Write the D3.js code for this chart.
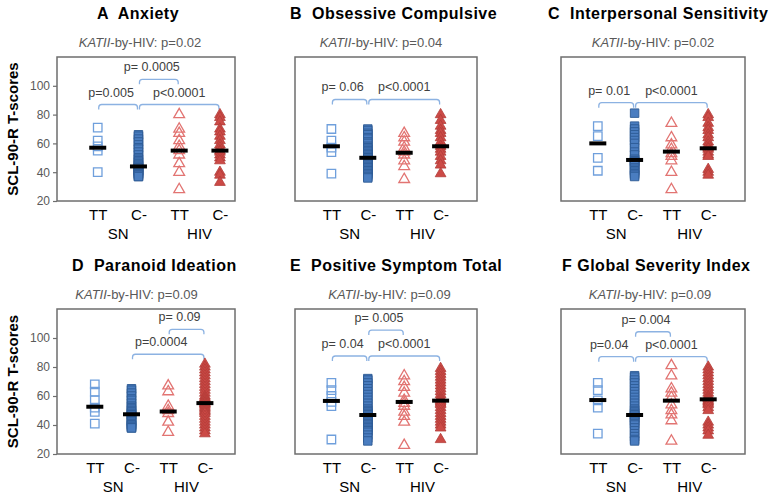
<!DOCTYPE html>
<html><head><meta charset="utf-8">
<script src="https://cdn.jsdelivr.net/npm/d3@7"></script>
<style>
html,body{margin:0;padding:0;background:#fff;}
svg{display:block;font-family:"Liberation Sans",Arial,sans-serif;}
</style></head><body>
<svg id="chart" width="773" height="498"></svg>
<script>
// ---------------- DATA ----------------
const categories = ["TT", "C-", "TT", "C-"];
const groups = ["SN", "HIV"];
const yTicks = [20, 40, 60, 80, 100];
const yLabel = "SCL-90-R T-scores";
const panelTitles = ["A  Anxiety", "B  Obsessive Compulsive", "C  Interpersonal Sensitivity",
                     "D  Paranoid Ideation", "E  Positive Symptom Total", "F Global Severity Index"];
const interactionP = ["0.02", "0.04", "0.02", "0.09", "0.09", "0.09"];

// A Anxiety
const anxSnTT  = [71, 62, 58, 55, 40];
const anxSnC   = [66, 65, 63, 61, 59, 57, 56, 54, 52, 50, 49, 48, 47, 46, 45, 44, 44, 43, 43, 42, 41, 41, 40, 40, 39, 39, 38, 38, 37, 37];
const anxHivTT = [80, 70, 67, 62, 58, 55, 52, 46, 40, 28];
const anxHivC  = [80, 78, 75, 70, 68, 65, 62, 59, 57, 55, 54, 52, 50, 48, 40, 38, 33];
const anxCenters = [57, 44, 55, 55];
const anxBrackets = [{from: 0, to: 1, level: 87, label: "p=0.005"},
                     {from: 1, to: 3, level: 87, label: "p<0.0001"},
                     {from: 1, to: 2, level: 104.5, label: "p= 0.0005"}];

// B Obsessive Compulsive
const ocSnTT  = [70, 62, 57, 54, 39];
const ocSnC   = [70, 69, 67, 66, 64, 63, 61, 60, 58, 57, 56, 55, 54, 53, 52, 51, 50, 50, 49, 48, 47, 46, 45, 44, 43, 42, 41, 40, 39, 38, 37, 36];
const ocHivTT = [67, 64, 61, 57, 54, 52, 48, 44, 35];
const ocHivC  = [80, 76, 72, 69, 67, 64, 61, 58, 56, 54, 51, 48, 45, 39];
const ocCenters = [58, 50, 53.5, 58];
const ocBrackets = [{from: 0, to: 1, level: 90.5, label: "p= 0.06"},
                    {from: 1, to: 3, level: 90.5, label: "p<0.0001"}];

// C Interpersonal Sensitivity
const isSnTT  = [72, 65, 50, 41];
const isSnC   = [81, 72, 70, 68, 66, 64, 62, 60, 57, 54, 52, 49, 48, 48, 47, 47, 46, 45, 43, 42, 41, 40, 39, 38, 37];
const isHivTT = [74, 64, 59, 56, 53, 51, 48, 40, 28];
const isHivC  = [80, 78, 74, 71, 69, 66, 64, 61, 59, 57, 56, 54, 52, 51, 42, 40, 38];
const isCenters = [60, 48.5, 54.3, 56.6];
const isBrackets = [{from: 0, to: 1, level: 88.3, label: "p= 0.01"},
                    {from: 1, to: 3, level: 88.3, label: "p<0.0001"}];

// D Paranoid Ideation
const piSnTT  = [68, 63, 57, 52, 49, 41];
const piSnC   = [65, 64, 62, 60, 58, 57, 55, 53, 52, 51, 50, 49, 48, 47, 47, 46, 45, 44, 43, 42, 41, 40, 40, 39, 39, 38, 38];
const piHivTT = [67, 63, 53, 50, 48, 42, 35];
const piHivC  = [82, 80, 78, 76, 74, 72, 70, 68, 66, 64, 62, 60, 59, 58, 57, 56, 55, 55, 54, 53, 52, 51, 50, 49, 48, 46, 44, 42, 40, 38, 36, 34];
const piCenters = [52.6, 47.4, 49.3, 55.1];
const piBrackets = [{from: 2, to: 3, level: 106, label: "p= 0.09"},
                    {from: 1, to: 3, level: 88.8, label: "p=0.0004"}];

// E Positive Symptom Total
const pstSnTT  = [69, 64, 60, 56, 53, 30];
const pstSnC   = [72, 71, 69, 67, 65, 63, 61, 59, 57, 55, 53, 51, 50, 49, 48, 47, 47, 46, 45, 44, 43, 42, 41, 40, 39, 38, 37, 36, 35, 33, 31, 29];
const pstHivTT = [74, 70, 66, 62, 57, 55, 53, 49, 46, 42, 26];
const pstHivC  = [79, 77, 75, 73, 71, 69, 67, 65, 63, 61, 59, 58, 57, 56, 55, 54, 52, 50, 48, 46, 44, 42, 40, 38, 30];
const pstCenters = [56.6, 46.9, 55.9, 56.8];
const pstBrackets = [{from: 0, to: 1, level: 87.6, label: "p= 0.04"},
                     {from: 1, to: 3, level: 87.6, label: "p<0.0001"},
                     {from: 1, to: 2, level: 105.5, label: "p= 0.005"}];

// F Global Severity Index
const gsiSnTT  = [69, 64, 57, 52, 34];
const gsiSnC   = [74, 73, 71, 69, 67, 65, 63, 61, 59, 57, 55, 53, 51, 50, 49, 48, 47, 47, 46, 45, 44, 43, 42, 41, 40, 38, 36, 34, 32, 30, 29];
const gsiHivTT = [81, 74, 65, 62, 59, 54, 50, 47, 43, 29];
const gsiHivC  = [80, 78, 76, 74, 72, 70, 68, 66, 64, 62, 60, 59, 58, 57, 56, 55, 54, 52, 50, 42, 40, 38, 36, 33];
const gsiCenters = [57.2, 46.9, 56.8, 57.7];
const gsiBrackets = [{from: 0, to: 1, level: 87.1, label: "p=0.04"},
                     {from: 1, to: 3, level: 87.1, label: "p<0.0001"},
                     {from: 1, to: 2, level: 104.3, label: "p= 0.004"}];

const panelSeries = [
  [anxSnTT, anxSnC, anxHivTT, anxHivC],
  [ocSnTT, ocSnC, ocHivTT, ocHivC],
  [isSnTT, isSnC, isHivTT, isHivC],
  [piSnTT, piSnC, piHivTT, piHivC],
  [pstSnTT, pstSnC, pstHivTT, pstHivC],
  [gsiSnTT, gsiSnC, gsiHivTT, gsiHivC]
];
const panelCenters = [anxCenters, ocCenters, isCenters, piCenters, pstCenters, gsiCenters];
const panelBrackets = [anxBrackets, ocBrackets, isBrackets, piBrackets, pstBrackets, gsiBrackets];

// ---------------- LAYOUT ----------------
const layout = [
  {left: 57,  right: 235, top: 57,  bottom: 201, xDomain: [0, 4.37],     yAxis: true,  titleX: 97,  titleY: 19,  subX: 140,   subY: 47},
  {left: 295, right: 477, top: 57,  bottom: 201, xDomain: [0, 5],        yAxis: false, titleX: 290, titleY: 19,  subX: 381,   subY: 47},
  {left: 561, right: 745, top: 57,  bottom: 201, xDomain: [0, 5],        yAxis: false, titleX: 548, titleY: 19,  subX: 653,   subY: 47},
  {left: 57,  right: 235, top: 309, bottom: 454, xDomain: [-0.03, 4.82], yAxis: true,  titleX: 72,  titleY: 271, subX: 136.5, subY: 299},
  {left: 295, right: 477, top: 309, bottom: 454, xDomain: [0, 5],        yAxis: false, titleX: 290, titleY: 271, subX: 389.5, subY: 299},
  {left: 561, right: 745, top: 309, bottom: 454, xDomain: [0, 5],        yAxis: false, titleX: 562, titleY: 271, subX: 650,   subY: 299}
];

const styles = [
  {shape: d3.symbolSquare,   size: 72, fill: "none",    stroke: "#6f9fdc", sw: 1.3},
  {shape: d3.symbolSquare,   size: 72, fill: "#4a7dc0", stroke: "#2c5a94", sw: 0.9},
  {shape: d3.symbolTriangle, size: 50, fill: "none",    stroke: "#e27472", sw: 1.3},
  {shape: d3.symbolTriangle, size: 50, fill: "#cc4a46", stroke: "#b23c38", sw: 0.8}
];

const svg = d3.select("#chart");

layout.forEach((L, pi) => {
  const g = svg.append("g");
  const x = d3.scaleLinear().domain(L.xDomain).range([L.left, L.right]);
  const y = d3.scaleLinear().domain([20, 120]).range([L.bottom, L.top]);

  g.append("text").attr("x", L.titleX).attr("y", L.titleY)
    .attr("font-size", 16).attr("font-weight", "bold").attr("letter-spacing", 0.5)
    .style("white-space", "pre").attr("fill", "#000").text(panelTitles[pi]);

  const st = g.append("text").attr("x", L.subX).attr("y", L.subY)
    .attr("text-anchor", "middle").attr("font-size", 13).attr("fill", "#595959");
  st.append("tspan").attr("font-style", "italic").text("KATII");
  st.append("tspan").text("-by-HIV: p=" + interactionP[pi]);

  g.append("rect").attr("x", L.left).attr("y", L.top)
    .attr("width", L.right - L.left).attr("height", L.bottom - L.top)
    .attr("fill", "none").attr("stroke", "#6e6e6e").attr("stroke-width", 1.5);

  if (L.yAxis) {
    const ax = g.append("g").attr("transform", `translate(${L.left},0)`)
      .call(d3.axisLeft(y).tickValues(yTicks).tickSize(4).tickPadding(3));
    ax.select(".domain").remove();
    ax.selectAll(".tick line").attr("stroke", "#6e6e6e").attr("stroke-width", 1.2);
    ax.selectAll(".tick text").attr("fill", "#595959").attr("font-size", 12)
      .attr("font-family", "Liberation Sans, Arial, sans-serif");
    g.append("text")
      .attr("transform", `translate(18,${(L.top + L.bottom) / 2}) rotate(-90)`)
      .attr("text-anchor", "middle").attr("font-size", 15).attr("font-weight", "bold")
      .text(yLabel);
  }

  const xa = g.append("g").attr("transform", `translate(0,${L.bottom})`)
    .call(d3.axisBottom(x).tickValues([1, 2, 3, 4]).tickSize(0).tickPadding(8)
      .tickFormat(d => categories[d - 1]));
  xa.select(".domain").remove();
  xa.selectAll(".tick text").attr("font-size", 15).attr("fill", "#000")
    .attr("font-family", "Liberation Sans, Arial, sans-serif");

  groups.forEach((gr, gi) => {
    g.append("text").attr("x", x(gi * 2 + 1.5)).attr("y", L.bottom + 38)
      .attr("text-anchor", "middle").attr("font-size", 15).text(gr);
  });

  panelBrackets[pi].forEach(b => {
    const x1 = x(b.from + 1) + 1, x2 = x(b.to + 1) - 1, yy = y(b.level);
    const r = 3, drop = 5;
    g.append("path")
      .attr("d", `M${x1},${yy + drop} L${x1},${yy + r} Q${x1},${yy} ${x1 + r},${yy} L${x2 - r},${yy} Q${x2},${yy} ${x2},${yy + r} L${x2},${yy + drop}`)
      .attr("fill", "none").attr("stroke", "#8cb2e2").attr("stroke-width", 1.3);
    const dx = b.label.startsWith("p<") ? 0 : -7;
    g.append("text").attr("x", (x1 + x2) / 2 + dx).attr("y", yy - 8)
      .attr("text-anchor", "middle").attr("font-size", 12.5).attr("fill", "#404040")
      .style("white-space", "pre").text(b.label);
  });

  panelSeries[pi].forEach((vals, si) => {
    const s = styles[si];
    const sym = d3.symbol().type(s.shape).size(s.size);
    g.append("g").selectAll("path").data(vals).join("path")
      .attr("d", sym)
      .attr("transform", d => `translate(${x(si + 1)},${y(d)})`)
      .attr("fill", s.fill).attr("stroke", s.stroke).attr("stroke-width", s.sw);
  });

  g.append("g").selectAll("line").data(panelCenters[pi]).join("line")
    .attr("x1", (d, i) => x(i + 1) - 8.5).attr("x2", (d, i) => x(i + 1) + 8.5)
    .attr("y1", d => y(d)).attr("y2", d => y(d))
    .attr("stroke", "#000").attr("stroke-width", 4);
});
</script>
</body></html>
